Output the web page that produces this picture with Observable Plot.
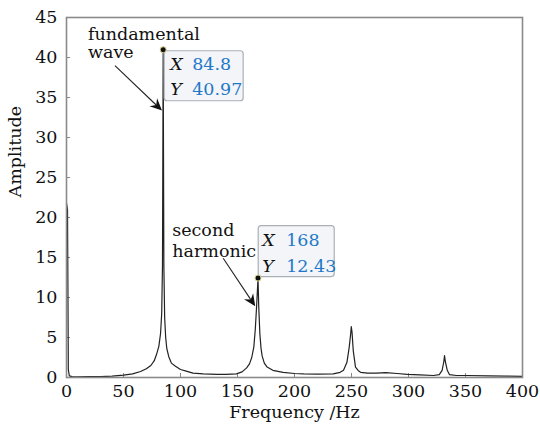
<!DOCTYPE html>
<html><head><meta charset="utf-8">
<script src="https://cdn.jsdelivr.net/npm/d3@7"></script>
<script src="https://cdn.jsdelivr.net/npm/@observablehq/plot@0.6"></script>
<style>body{margin:0;background:#fff}</style>
</head><body><div id="chart"></div>
<script>
// Spectrum
const freq = [0, 0.9, 1.6, 2.5, 5, 10, 20, 30, 40, 50, 58, 65, 70, 74, 77, 79, 81, 82.5, 83.5, 84.2, 84.8, 85.4, 86.1, 87, 88, 89.7, 92, 95.6, 100, 105, 111, 120, 132, 140, 149, 154, 158, 160.5, 162.5, 164.3, 165.6, 166.8, 167.5, 168, 168.6, 169.6, 170.6, 171.6, 173.5, 176, 181, 190, 200, 208, 220, 234, 240, 243, 246, 248, 249.3, 249.8, 250.5, 251.5, 253.5, 256, 258, 264, 272, 280, 290, 299, 310, 322, 327, 329.5, 331, 331.6, 332.3, 334, 336, 342, 351.5, 370, 385, 400];
const amp  = [21.8, 21.0, 1.0, 0.2, 0.1, 0.08, 0.1, 0.12, 0.18, 0.3, 0.45, 0.75, 1.1, 1.5, 2.1, 2.9, 3.9, 5.5, 8, 14, 40.97, 14, 7.5, 5, 3.6, 2.6, 1.8, 1.4, 1.0, 0.8, 0.55, 0.45, 0.38, 0.38, 0.45, 0.7, 1.2, 1.7, 2.5, 3.8, 6, 9, 11, 12.43, 9, 5.5, 3.7, 2.7, 1.8, 1.3, 0.9, 0.65, 0.5, 0.45, 0.42, 0.45, 0.65, 0.9, 1.9, 3.8, 5.5, 6.35, 5.6, 3.4, 1.3, 0.85, 0.65, 0.55, 0.55, 0.6, 0.5, 0.4, 0.32, 0.25, 0.35, 0.9, 2.0, 2.75, 2.0, 0.9, 0.35, 0.25, 0.25, 0.2, 0.18, 0.15];

const xTicks = [0, 50, 100, 150, 200, 250, 300, 350, 400];
const yTicks = [0, 5, 10, 15, 20, 25, 30, 35, 40, 45];
const xTitle = "Frequency /Hz";
const yTitle = "Amplitude";

const peakNames = [["fundamental", "wave"], ["second", "harmonic"]];
const peakX = [84.8, 168];
const peakY = [40.97, 12.43];

const spectrum = freq.map((f, i) => ({f, a: amp[i]}));
const peaks = peakX.map((x, i) => ({x, y: peakY[i], name: peakNames[i]}));

const FONT = "DejaVu Serif";
const FS = 17.5;

// annotation layout (pixel offsets relative to the peak point)
const tipLayout = [
  {bx: 1.5, by: 1.5, w: 79, h: 50, tx: 6, nx: 28, r1: 19.7, r2: 44.7,
   lx: -74.7, l1: -9, l2: 8.6, a: [-47.7, 16.3, -0.7, 61.3]},
  {bx: 0.7, by: -52, w: 76, h: 51, tx: 4, nx: 28, r1: 20, r2: 46,
   lx: -85.3, l1: -41.6, l2: -21, a: [-34.3, -19.3, -2.3, 28.7]}
];

function annotations(index, scales) {
  const g = d3.create("svg:g").attr("font-family", FONT).attr("font-size", FS).attr("text-anchor", "start");
  peaks.forEach((p, i) => {
    const L = tipLayout[i];
    const px = scales.x(p.x), py = scales.y(p.y);
    // datatip box
    const bx = px + L.bx, by = py + L.by;
    g.append("rect").attr("x", bx).attr("y", by).attr("width", L.w).attr("height", L.h)
      .attr("rx", 3).attr("fill", "#f3f5f8").attr("stroke", "#aab0b6").attr("stroke-width", 1.2);
    [["X", p.x, L.r1], ["Y", p.y, L.r2]].forEach(([k, v, r]) => {
      g.append("text").attr("x", bx + L.tx).attr("y", by + r).attr("font-style", "italic")
        .attr("fill", "#111").text(k);
      g.append("text").attr("x", bx + L.nx).attr("y", by + r).attr("fill", "#1f78c8").text(String(v));
    });
    // label
    g.append("text").attr("x", px + L.lx).attr("y", py + L.l1).attr("fill", "#111").text(p.name[0]);
    g.append("text").attr("x", px + L.lx).attr("y", py + L.l2).attr("fill", "#111").text(p.name[1]);
    // arrow
    const [x1, y1, x2, y2] = [px + L.a[0], py + L.a[1], px + L.a[2], py + L.a[3]];
    const dx = x2 - x1, dy = y2 - y1, len = Math.hypot(dx, dy);
    const ux = dx / len, uy = dy / len, nx = -uy, ny = ux;
    const HL = 12, HW = 5.5, notch = 4;
    g.append("line").attr("x1", x1).attr("y1", y1).attr("x2", x2 - ux * (HL - notch)).attr("y2", y2 - uy * (HL - notch))
      .attr("stroke", "#222").attr("stroke-width", 1.1);
    const pts = [
      [x2, y2],
      [x2 - ux * HL + nx * HW, y2 - uy * HL + ny * HW],
      [x2 - ux * (HL - notch), y2 - uy * (HL - notch)],
      [x2 - ux * HL - nx * HW, y2 - uy * HL - ny * HW]
    ];
    g.append("polygon").attr("points", pts.map(q => q.join(",")).join(" ")).attr("fill", "#111");
  });
  return g.node();
}

const chart = Plot.plot({
  width: 540,
  height: 426,
  marginLeft: 66,
  marginRight: 18,
  marginTop: 17,
  marginBottom: 49,
  style: {fontFamily: FONT, fontSize: FS + "px", color: "#111", background: "#fff"},
  x: {domain: [0, 400]},
  y: {domain: [0, 45]},
  marks: [
    Plot.axisX(xTicks, {tickSize: -4, tickPadding: 11, label: null, stroke: "#888", fontSize: FS}),
    Plot.axisY(yTicks, {tickSize: -4, tickPadding: 13, label: null, stroke: "#888", fontSize: FS}),
    Plot.line(spectrum, {x: "f", y: "a", stroke: "#222", strokeWidth: 1.2}),
    Plot.frame({stroke: "#8a8a8a", strokeWidth: 1.6}),
    Plot.text([xTitle], {frameAnchor: "bottom", dy: 40, fontSize: FS, fill: "#111"}),
    Plot.text([yTitle], {frameAnchor: "left", dx: -51, rotate: -90, fontSize: FS, fill: "#111"}),
    annotations,
    Plot.dot(peaks, {x: "x", y: "y", r: 3, fill: "#111", stroke: "#d6cf8a", strokeWidth: 1})
  ]
});
document.getElementById("chart").appendChild(chart);
</script>
</body></html>
